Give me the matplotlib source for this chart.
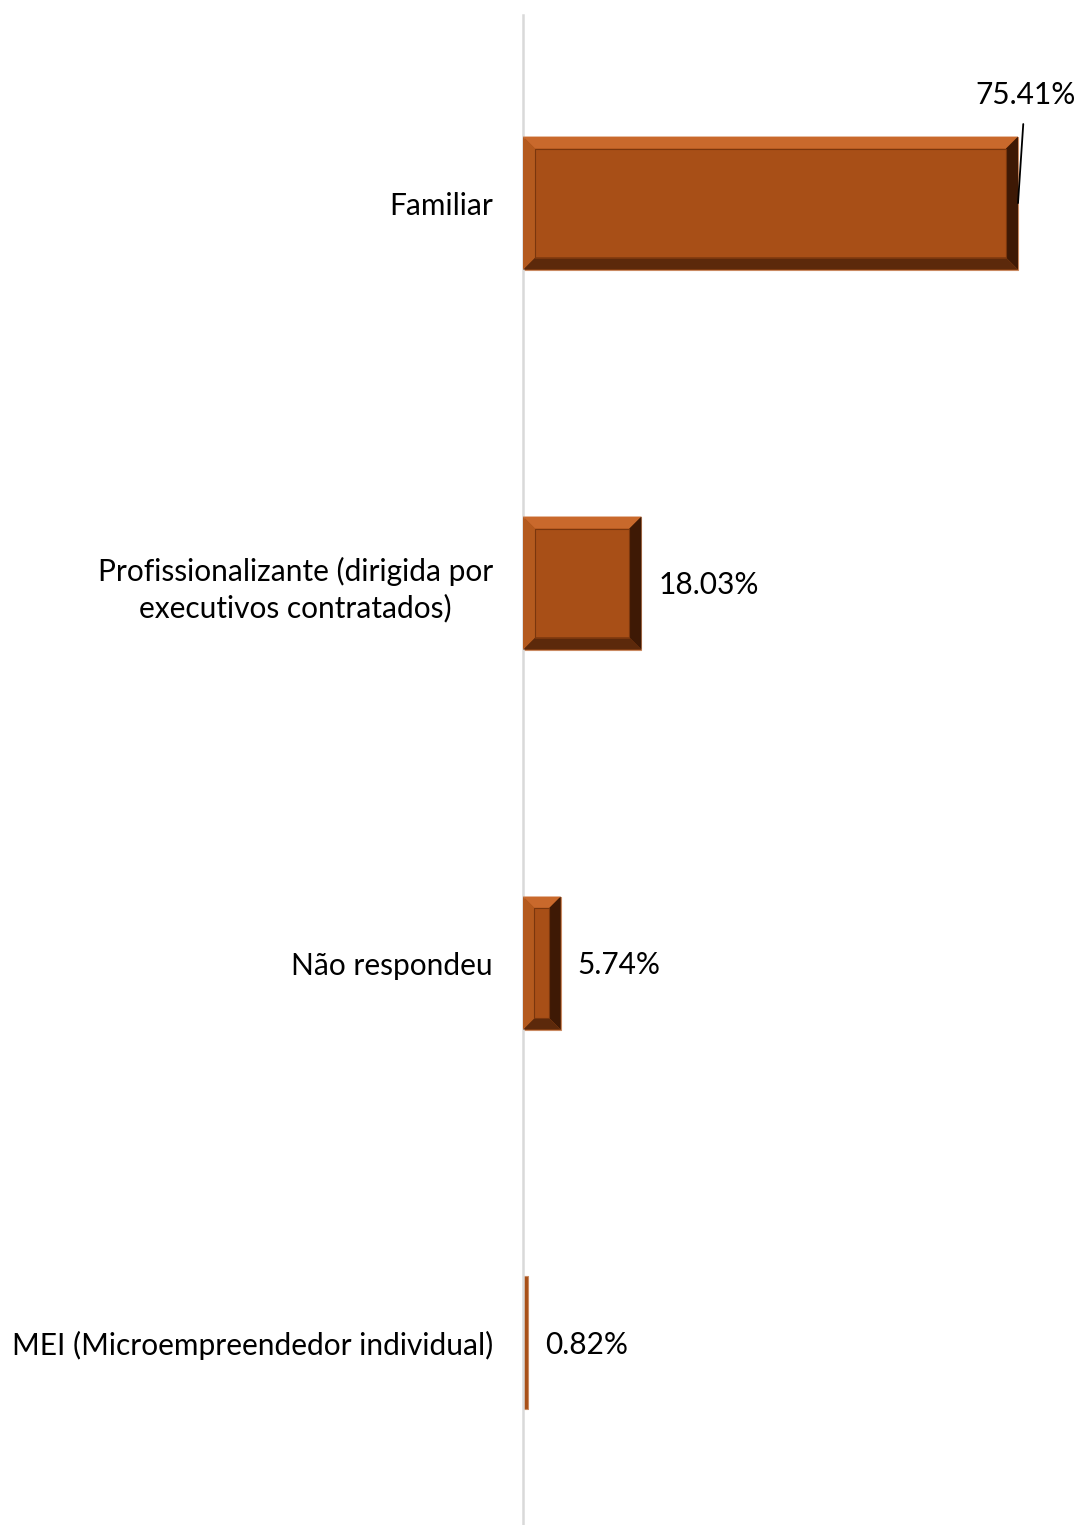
import matplotlib.pyplot as plt
from matplotlib.patches import Polygon
from matplotlib.transforms import offset_copy

categorias = ['Familiar', 'Profissionalizante (dirigida por\nexecutivos contratados)',
              'Não respondeu', 'MEI (Microempreendedor individual)']
valores = [75.41, 18.03, 5.74, 0.82]
rotulos = ['75.41%', '18.03%', '5.74%', '0.82%']

plt.rcParams['font.family'] = ['Lato', 'DejaVu Sans']
fs = 21.5

W, H = 1079, 1525
fig = plt.figure(figsize=(W / 100, H / 100), dpi=100)
ax = fig.add_axes([523 / W, 0, (W - 523) / W, (H - 15) / H])

y = list(range(len(categorias)))
bars = ax.barh(y, valores, height=0.35, color='#A84F17', edgecolor='#C98A62', linewidth=0.8, zorder=2)
ax.set_xlim(0, (W - 523) / 6.564)
ax.set_ylim(3.479, -0.495)

for s in ['top', 'right', 'bottom']:
    ax.spines[s].set_visible(False)
ax.spines['left'].set_color('#D9D9D9')
ax.spines['left'].set_linewidth(1.8)
ax.set_xticks([])
ax.set_yticks(y)
ax.set_yticklabels(categorias, fontsize=fs, multialignment='center', linespacing=1.35)
ax.tick_params(axis='y', length=0, pad=21.6)

# efeito de chanfro, a partir da geometria de cada barra (em pixels)
fig.canvas.draw()
inv = ax.transData.inverted()
for b in bars:
    x0, y0 = ax.transData.transform((b.get_x(), b.get_y()))
    x1, y1 = ax.transData.transform((b.get_x() + b.get_width(), b.get_y() + b.get_height()))
    ylo, yhi = min(y0, y1), max(y0, y1)
    if x1 - x0 < 8:
        continue
    bw = min(12, (x1 - x0) * 0.3, (yhi - ylo) * 0.3)
    outer = [(x0, yhi), (x1, yhi), (x1, ylo), (x0, ylo)]
    inner = [(x0 + bw, yhi - bw), (x1 - bw, yhi - bw), (x1 - bw, ylo + bw), (x0 + bw, ylo + bw)]
    faces = [
        ([outer[0], outer[1], inner[1], inner[0]], '#C9692C'),  # topo
        ([outer[1], outer[2], inner[2], inner[1]], '#3E1905'),  # direita
        ([outer[2], outer[3], inner[3], inner[2]], '#5C290B'),  # base
        ([outer[3], outer[0], inner[0], inner[3]], '#B45A1E'),  # esquerda
    ]
    for pts, c in faces:
        ax.add_patch(Polygon(inv.transform(pts), closed=True, facecolor=c, edgecolor='none', zorder=3))
    ax.add_patch(Polygon(inv.transform(inner), closed=True, facecolor='none',
                         edgecolor='#7A360D', linewidth=0.8, zorder=4))

# rótulos de dados
for i, (b, r) in enumerate(zip(bars, rotulos)):
    fim = b.get_width()
    cy = b.get_y() + b.get_height() / 2
    if i == 0:
        ax.annotate(r, xy=(fim, cy), xytext=(fim + 1.1, cy - 0.285), fontsize=fs,
                    ha='center', va='center',
                    arrowprops=dict(arrowstyle='-', color='black', lw=1.3,
                                    shrinkA=9, shrinkB=0), zorder=5)
    else:
        t = offset_copy(ax.transData, fig=fig, x=17, y=-2, units='dots')
        ax.text(fim, cy, r, transform=t, fontsize=fs, ha='left', va='center')

fig.savefig('out.png', dpi=100)
